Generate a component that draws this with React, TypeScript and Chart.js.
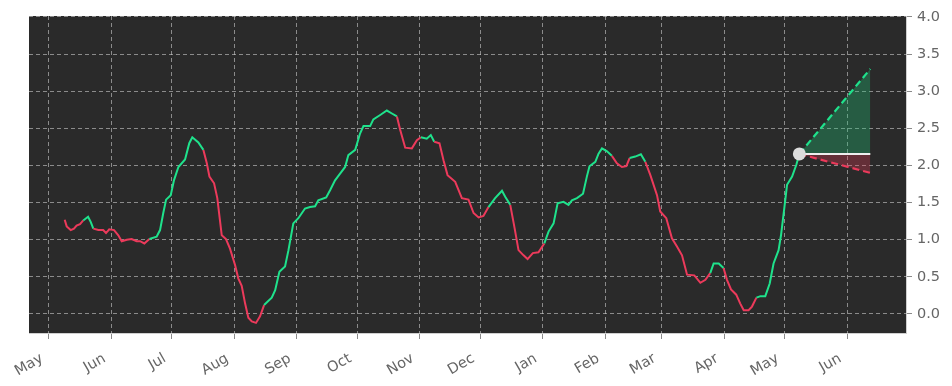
import React, { useEffect, useRef } from "react";
import { Chart, registerables } from "chart.js";

Chart.register(...registerables);

// ---- data ----
// x values are days counted from the 1st of the first "May"
const MONTH_LABELS = ["May", "Jun", "Jul", "Aug", "Sep", "Oct", "Nov", "Dec", "Jan", "Feb", "Mar", "Apr", "May", "Jun"];
const MONTH_TICK_DAYS = [0, 31, 61, 92, 123, 153, 184, 214, 245, 276, 304, 335, 365, 396];
const Y_TICKS = [0, 0.5, 1, 1.5, 2, 2.5, 3, 3.5, 4];

const DAYS = [
  7.8, 8.8, 10.8, 12.4, 13.7, 15.4, 17.0, 19.4, 20.7, 22.0, 24.5, 26.9, 28.3, 29.9, 32.3, 34.4, 36.1, 38.6,
  41.0, 43.5, 45.2, 47.3, 49.8, 53.4, 55.1, 56.7, 58.1, 60.4, 62.0, 64.2, 67.5, 69.6, 71.1, 74.1, 76.6, 78.3,
  79.6, 81.9, 83.5, 85.7, 87.8, 89.8, 92.3, 93.9, 95.6, 97.3, 98.9, 100.6, 102.7, 104.7, 106.7, 110.5, 112.2,
  114.3, 117.1, 118.8, 121.2, 123.7, 127.0, 129.5, 132.0, 133.6, 137.5, 139.5, 141.9, 144.4, 146.9, 148.5,
  151.9, 154.3, 156.0, 159.3, 160.9, 164.3, 167.6, 170.1, 172.6, 174.2, 176.7, 180.0, 182.5, 184.5, 187.4,
  189.4, 191.1, 193.7, 195.7, 197.7, 201.5, 204.8, 208.1, 210.6, 213.1, 215.5, 218.0, 221.3, 224.7, 226.3,
  228.8, 230.8, 232.9, 235.4, 237.4, 240.0, 242.8, 245.7, 247.8, 250.3, 252.3, 255.2, 257.7, 259.4, 261.9,
  264.9, 266.8, 268.1, 271.0, 272.6, 274.3, 276.8, 279.2, 281.7, 284.2, 286.4, 288.0, 290.8, 293.6, 295.8,
  298.3, 301.6, 303.2, 306.2, 309.0, 311.5, 314.0, 316.5, 320.1, 323.1, 325.6, 328.0, 329.7, 332.2, 334.6,
  336.3, 338.3, 340.9, 342.9, 344.6, 347.0, 348.7, 350.9, 352.9, 355.3, 357.5, 359.4, 361.9, 363.1, 364.8,
  366.1, 368.6, 370.7, 372.2,
];

const VALUES = [
  1.27, 1.18, 1.13, 1.15, 1.19, 1.21, 1.26, 1.31, 1.24, 1.15, 1.13, 1.13, 1.09, 1.14, 1.13, 1.06, 0.98, 1.0,
  1.01, 0.98, 0.98, 0.95, 1.01, 1.04, 1.13, 1.36, 1.54, 1.6, 1.8, 1.98, 2.08, 2.3, 2.38, 2.31, 2.21, 2.03,
  1.85, 1.76, 1.56, 1.06, 1.01, 0.88, 0.66, 0.48, 0.38, 0.14, -0.05, -0.1, -0.12, -0.03, 0.12, 0.22, 0.32,
  0.57, 0.64, 0.86, 1.22, 1.29, 1.42, 1.44, 1.45, 1.53, 1.57, 1.67, 1.8, 1.89, 1.98, 2.14,
  2.21, 2.43, 2.53, 2.53, 2.62, 2.68, 2.74, 2.7, 2.66, 2.48, 2.24, 2.23, 2.34, 2.38, 2.36,
  2.41, 2.32, 2.3, 2.07, 1.87, 1.78, 1.56, 1.54, 1.36, 1.3, 1.32, 1.44, 1.56, 1.66, 1.58,
  1.47, 1.18, 0.86, 0.79, 0.74, 0.82, 0.83, 0.95, 1.11, 1.22, 1.49, 1.51, 1.47, 1.53, 1.56,
  1.62, 1.85, 1.99, 2.05, 2.16, 2.23, 2.19, 2.13, 2.03, 1.98, 1.99, 2.1, 2.12, 2.15, 2.05,
  1.87, 1.6, 1.38, 1.29, 1.02, 0.91, 0.79, 0.53, 0.52, 0.42, 0.46, 0.55, 0.68, 0.68, 0.62,
  0.46, 0.33, 0.26, 0.14, 0.05, 0.05, 0.1, 0.22, 0.24, 0.24, 0.41, 0.68, 0.86, 1.06, 1.44,
  1.74, 1.85, 2.01, 2.155,
];

// periods (in days) where the trend signal is "up"
const UP_PERIODS: [number, number][] = [
  [17.0, 22.0], [49.8, 76.6], [106.7, 172.6], [184.5, 191.1], [218.0, 228.8],
  [245.7, 279.5], [288.0, 295.8], [328.0, 334.6], [350.9, 373],
];

const FORECAST_DAYS = [372.2, 407.4];
const FORECAST_HIGH = [2.155, 3.3];
const FORECAST_MID = [2.155, 2.155];
const FORECAST_LOW = [2.155, 1.9];

// ---- styles ----
const GREEN = "#1fe28c";
const RED = "#ec3a5b";
const GRID = "rgba(205,205,205,0.6)";
const FONT = { family: "DejaVu Sans", size: 14.5 };

const isUp = (d: number) => UP_PERIODS.some(([a, b]) => d >= a && d <= b);

const bgPlugin = {
  id: "plotBg",
  beforeDraw(chart: any) {
    const { ctx, chartArea } = chart;
    if (!chartArea) return;
    ctx.save();
    ctx.fillStyle = "#2a2a2a";
    ctx.fillRect(chartArea.left, chartArea.top, chartArea.right - chartArea.left, chartArea.bottom - chartArea.top);
    ctx.restore();
  },
};

export default function App() {
  const ref = useRef<HTMLCanvasElement | null>(null);

  useEffect(() => {
    if (!ref.current) return;
    const pts = (xs: number[], ys: number[]) => xs.map((x, i) => ({ x, y: ys[i] }));
    const last = DAYS.length - 1;

    const chart = new Chart(ref.current, {
      type: "line",
      data: {
        datasets: [
          {
            data: [{ x: DAYS[last], y: VALUES[last] }],
            showLine: false,
            pointRadius: 6.5,
            pointBackgroundColor: "#dcdcdc",
            pointBorderWidth: 0,
          },
          {
            data: pts(DAYS, VALUES),
            borderWidth: 2,
            pointRadius: 0,
            borderColor: GREEN,
            segment: {
              borderColor: (c: any) => (isUp((c.p0.parsed.x + c.p1.parsed.x) / 2) ? GREEN : RED),
            },
          },
          {
            data: pts(FORECAST_DAYS, FORECAST_MID),
            borderColor: "#eeeeee",
            borderWidth: 2,
            pointRadius: 0,
          },
          {
            data: pts(FORECAST_DAYS, FORECAST_HIGH),
            borderColor: GREEN,
            borderWidth: 2.2,
            borderDash: [7, 4],
            pointRadius: 0,
            fill: { target: 2 },
            backgroundColor: "rgba(31,200,120,0.32)",
          },
          {
            data: pts(FORECAST_DAYS, FORECAST_LOW),
            borderColor: RED,
            borderWidth: 2.2,
            borderDash: [7, 4],
            pointRadius: 0,
            fill: { target: 2 },
            backgroundColor: "rgba(236,58,91,0.3)",
          },
        ],
      },
      options: {
        animation: false,
        responsive: false,
        devicePixelRatio: 1,
        layout: { padding: { left: 29, top: 16, right: 0, bottom: 0 } },
        plugins: { legend: { display: false }, tooltip: { enabled: false } },
        scales: {
          x: {
            type: "linear",
            min: -9.9,
            max: 425.1,
            afterBuildTicks: (s: any) => {
              s.ticks = MONTH_TICK_DAYS.map((v) => ({ value: v }));
            },
            afterFit: (s: any) => {
              s.height = 53;
              s.paddingLeft = 0;
              s.paddingRight = 0;
            },
            ticks: {
              autoSkip: false,
              minRotation: 30,
              maxRotation: 30,
              color: "#666666",
              font: FONT,
              padding: 11,
              labelOffset: -7,
              callback: (_v: any, i: number) => MONTH_LABELS[i],
            },
            grid: { color: GRID, lineWidth: 1, tickLength: 6, tickColor: "#8a8a8a", tickWidth: 1 },
            border: { display: true, color: "#cfcfcf", width: 1, dash: [4, 3] },
          },
          y: {
            type: "linear",
            position: "right",
            min: -0.256,
            max: 4.013,
            afterBuildTicks: (s: any) => {
              s.ticks = Y_TICKS.map((v) => ({ value: v }));
            },
            afterFit: (s: any) => {
              s.width = 46;
              s.paddingTop = 0;
              s.paddingBottom = 0;
            },
            ticks: {
              color: "#666666",
              font: FONT,
              padding: 5,
              callback: (v: any) => Number(v).toFixed(1),
            },
            grid: { color: GRID, lineWidth: 1, tickLength: 6, tickColor: "#8a8a8a", tickWidth: 1 },
            border: { display: true, color: "#cfcfcf", width: 1, dash: [4, 3] },
          },
        },
      },
      plugins: [bgPlugin],
    } as any);

    return () => chart.destroy();
  }, []);

  return (
    <div style={{ position: "fixed", left: 0, top: 0, width: 952, height: 386, background: "#ffffff" }}>
      <canvas ref={ref} width={952} height={386} style={{ display: "block" }} />
    </div>
  );
}
